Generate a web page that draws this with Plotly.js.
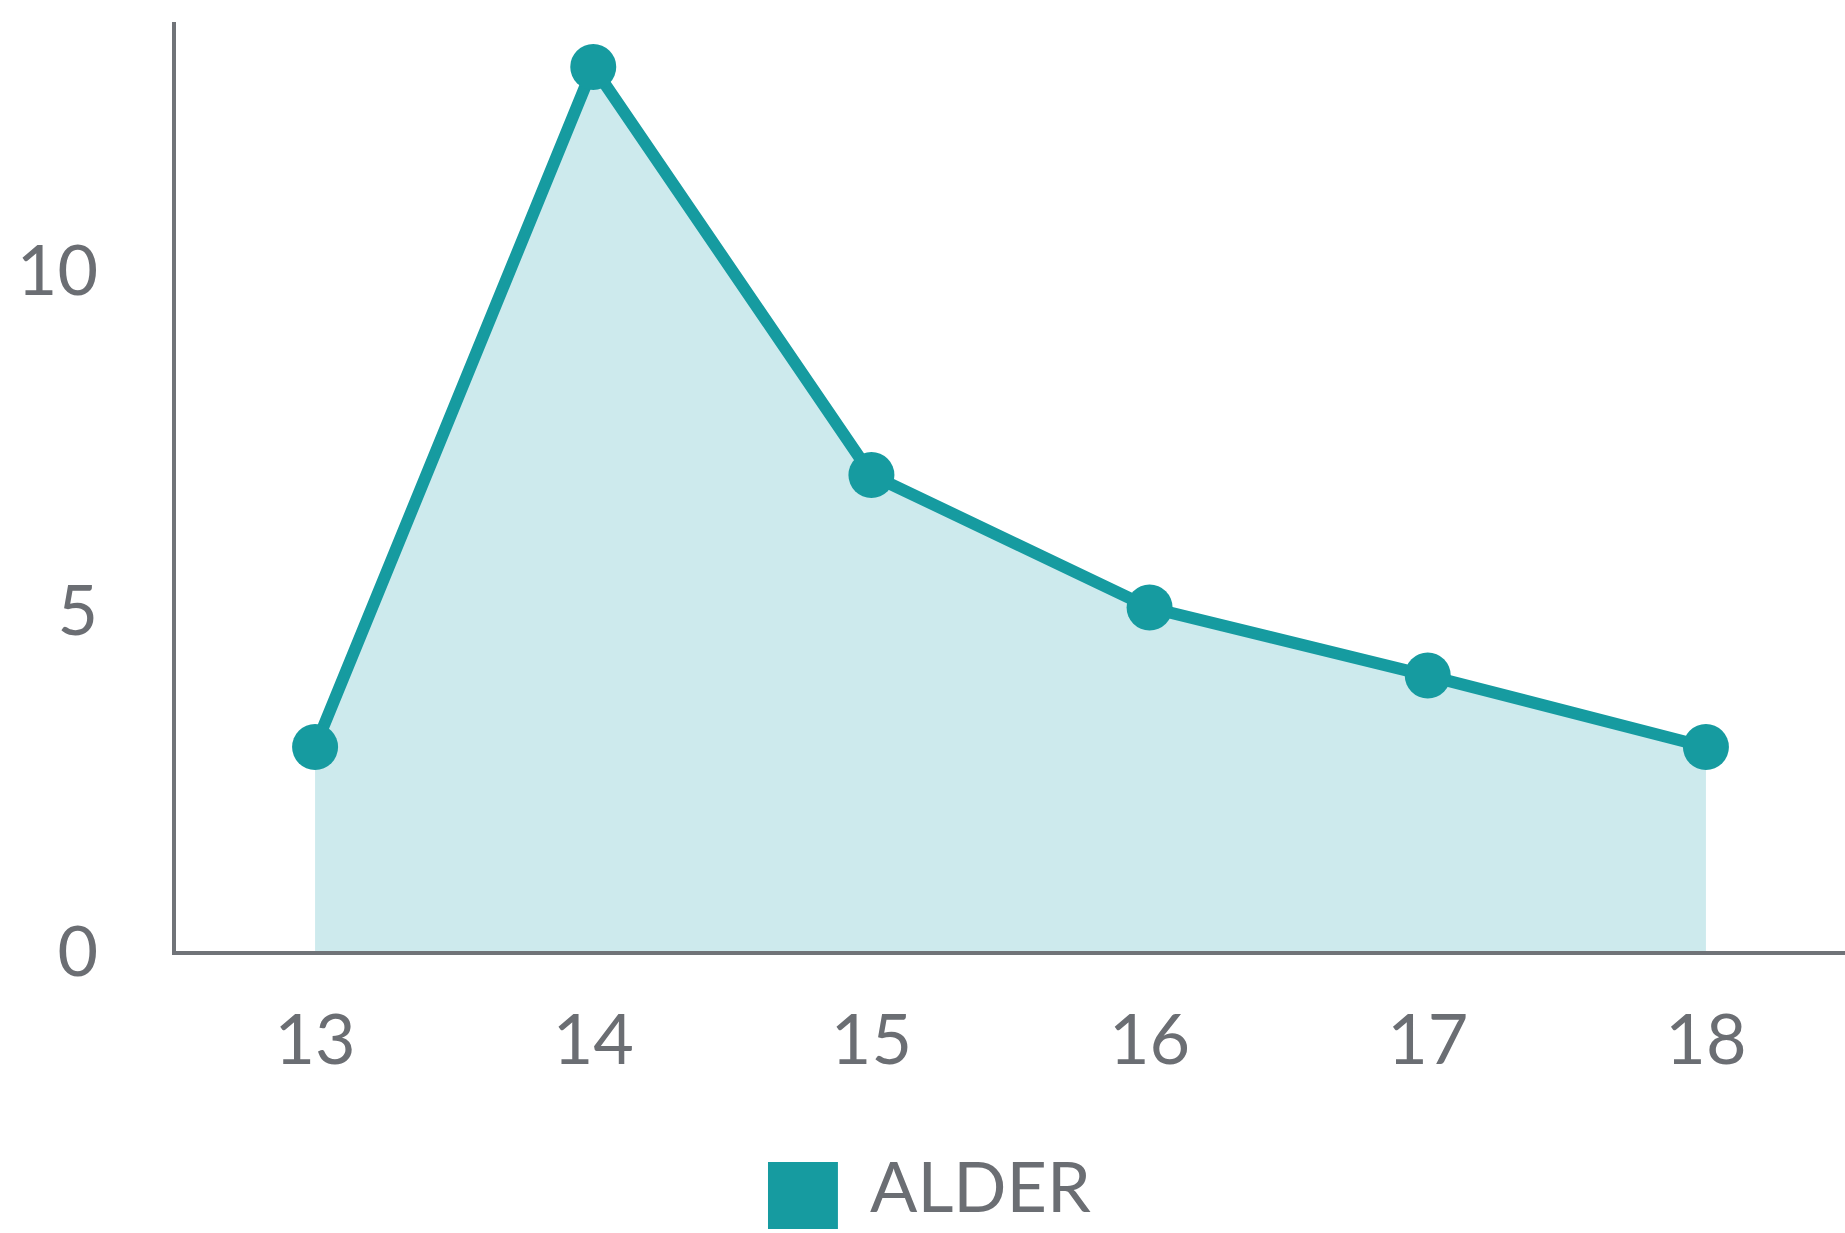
<!DOCTYPE html>
<html>
<head>
<meta charset="utf-8">
<script src="https://cdn.plot.ly/plotly-3.0.1.min.js"></script>
<style>
html, body { margin: 0; padding: 0; background: #ffffff; }
#chart { width: 1845px; height: 1233px; }
</style>
</head>
<body>
<div id="chart"></div>
<script>
const categories = [13, 14, 15, 16, 17, 18];
const alderValues = [3, 13, 7, 5.05, 4.05, 3];
const seriesName = "ALDER";
const yTicks = [0, 5, 10];

const teal = "#169ba0";
const fillColor = "#cdeaed";
const axisGray = "#707378";
const textGray = "#6b6e73";

const trace = {
  x: categories,
  y: alderValues,
  type: "scatter",
  mode: "lines+markers",
  name: seriesName,
  fill: "tozeroy",
  fillcolor: fillColor,
  line: { color: teal, width: 12 },
  marker: { color: teal, size: 46 },
  showlegend: false,
  hoverinfo: "x+y"
};

const layout = {
  width: 1845,
  height: 1233,
  margin: { l: 176, r: 0, t: 22, b: 282 },
  paper_bgcolor: "#ffffff",
  plot_bgcolor: "#ffffff",
  font: { family: "Lato, 'Open Sans', sans-serif", color: textGray, size: 70 },
  xaxis: {
    range: [12.5, 18.5],
    tickvals: categories,
    ticktext: categories.map(String),
    showgrid: false,
    zeroline: false,
    showline: true,
    linecolor: axisGray,
    linewidth: 4,
    ticks: "",
    ticklabelstandoff: 25,
    tickfont: { size: 70, color: textGray }
  },
  yaxis: {
    range: [0, 13.66],
    tickvals: yTicks,
    ticktext: yTicks.map(String),
    showgrid: false,
    zeroline: false,
    showline: true,
    linecolor: axisGray,
    linewidth: 4,
    ticks: "",
    ticklabelstandoff: 60,
    tickfont: { size: 70, color: textGray }
  },
  shapes: [
    {
      type: "rect",
      xref: "paper", yref: "paper",
      x0: 0.3547, x1: 0.3966, y0: -0.2992, y1: -0.2271,
      fillcolor: teal,
      line: { width: 0 }
    }
  ],
  annotations: [
    {
      xref: "paper", yref: "paper",
      x: 0.4146, y: -0.252,
      xanchor: "left", yanchor: "middle",
      text: seriesName,
      showarrow: false,
      font: { family: "Lato, 'Open Sans', sans-serif", size: 70, color: textGray }
    }
  ]
};

Plotly.newPlot("chart", [trace], layout, { displayModeBar: false, staticPlot: true });
</script>
</body>
</html>
